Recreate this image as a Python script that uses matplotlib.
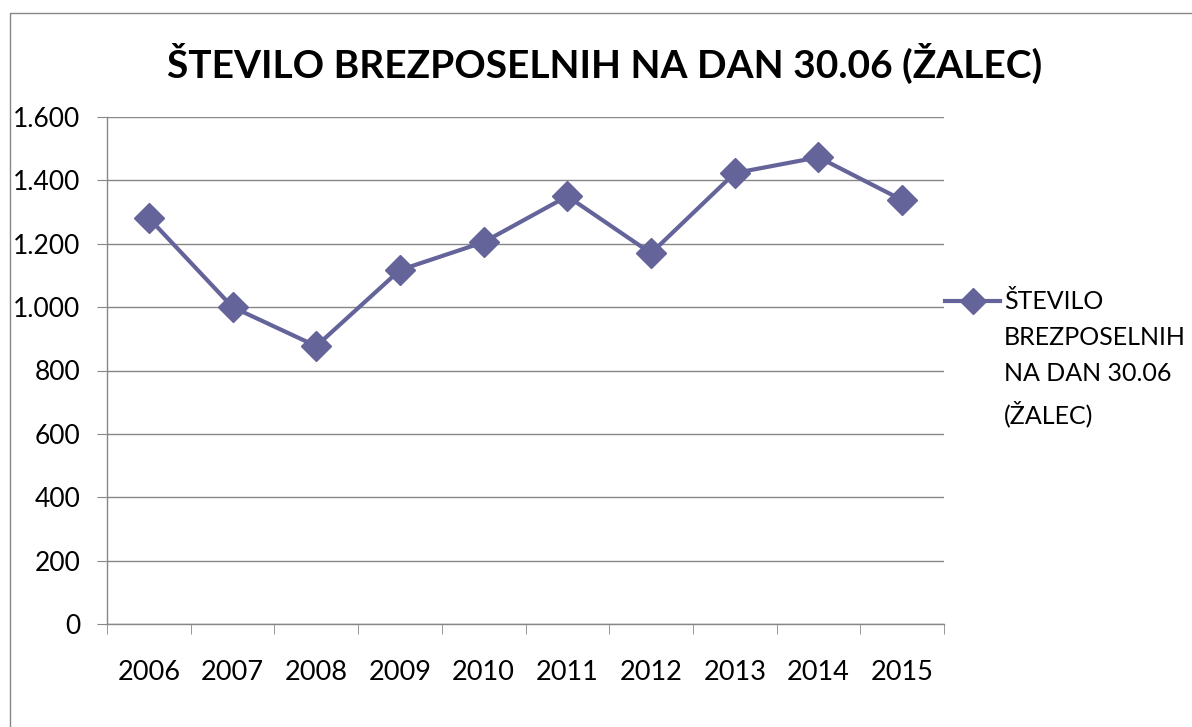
import matplotlib.pyplot as plt
import numpy as np
from matplotlib.lines import Line2D
from matplotlib.ticker import FuncFormatter, FixedLocator

plt.rcParams['font.family'] = ['Lato', 'DejaVu Sans']

# podatki
leta = ["2006", "2007", "2008", "2009", "2010", "2011", "2012", "2013", "2014", "2015"]
brezposelni = [1281, 1000, 877, 1117, 1205, 1350, 1170, 1423, 1473, 1338]
naslov = "ŠTEVILO BREZPOSELNIH NA DAN 30.06 (ŽALEC)"
legenda = "ŠTEVILO\nBREZPOSELNIH\nNA DAN 30.06\n(ŽALEC)"

barva = "#64649A"
siva = "#878787"

fig = plt.figure(figsize=(11.92, 7.27), dpi=100)
ax = fig.add_axes([107 / 1192, 1 - 624 / 727, (944 - 107) / 1192, (624 - 117) / 727])

x = np.arange(len(leta))
ax.plot(x, brezposelni, color=barva, linewidth=3, marker="D", markersize=15,
        markerfacecolor=barva, markeredgecolor=barva)

ax.set_xlim(-0.5, len(leta) - 0.5)
ax.set_ylim(0, 1600)
ax.set_yticks(np.arange(0, 1601, 200))
ax.yaxis.set_major_formatter(FuncFormatter(lambda v, p: f"{v:,.0f}".replace(",", ".")))
ax.set_xticks(x)
ax.set_xticklabels(leta)
ax.xaxis.set_minor_locator(FixedLocator(np.arange(-0.5, len(leta), 1)))

ax.grid(axis="y", color=siva, linewidth=1)
ax.set_axisbelow(True)
for s in ["top", "right"]:
    ax.spines[s].set_visible(False)
for s in ["left", "bottom"]:
    ax.spines[s].set_color(siva)
    ax.spines[s].set_linewidth(1)

ax.tick_params(axis="y", length=7, color=siva, pad=12, labelsize=19)
ax.tick_params(axis="x", which="major", length=0, pad=26, labelsize=19.5)
ax.tick_params(axis="x", which="minor", length=7, color=siva)

fig.text(605 / 1192, 1 - 63 / 727, naslov, ha="center", va="center",
         fontsize=28, fontweight="bold")

# legenda
fig.add_artist(Line2D([945 / 1192, 1000 / 1192], [1 - 301 / 727, 1 - 301 / 727],
                      color=barva, linewidth=3))
fig.add_artist(Line2D([973 / 1192], [1 - 301 / 727], color=barva, marker="D",
                      markersize=13))
fig.text(1004 / 1192, 1 - 290 / 727, legenda, ha="left", va="top",
         fontsize=18, linespacing=1.68)

# okvir
fig.add_artist(Line2D([10 / 1192, 10 / 1192, 1.0], [0, 1 - 13 / 727, 1 - 13 / 727],
                      color=siva, linewidth=1))

fig.savefig("out.png", dpi=100)
